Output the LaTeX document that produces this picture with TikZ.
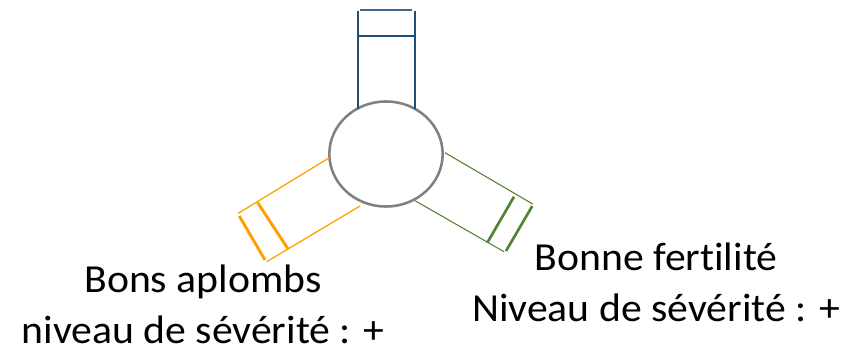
\documentclass[tikz,border=0pt]{standalone}
\usepackage{fontspec}
\setmainfont{Carlito}[Ligatures=NoCommon, FakeStretch=1.05]
\usetikzlibrary{shapes.geometric}
\definecolor{armblue}{HTML}{1F4E79}
\definecolor{armorange}{HTML}{FFA000}
\definecolor{armgreen}{HTML}{548235}
\definecolor{bodygray}{HTML}{808080}
\tikzset{
  body/.style={ellipse, draw=bodygray, line width=1.9pt, inner sep=0pt,
    minimum width=85pt, minimum height=78.8pt},
  thinside/.style={line width=0.95pt},
  thickbar/.style={line width=2.2pt},
  label/.style={font=\fontsize{29.8}{37.8}\selectfont, align=center, inner sep=0pt, anchor=base}
}
\begin{document}
\begin{tikzpicture}[x=0.75pt,y=-0.75pt]
\useasboundingbox (0,0) rectangle (856,349);
\node[body] (corps) at (386,154) {};
% top arm (blue)
\coordinate (bA1) at (357.7,11);
\coordinate (bA2) at (357.7,108.6);
\coordinate (bB1) at (415,11);
\coordinate (bB2) at (415,108.6);
\coordinate (bT1) at (360,10);
\coordinate (bT2) at (412,10);
\coordinate (bC1) at (358,36);
\coordinate (bC2) at (415,36);
\draw[armblue, line width=1.5pt] (bA1) -- (bA2) (bB1) -- (bB2);
\draw[armblue!85, line width=1.5pt] (bT1) -- (bT2);
\draw[armblue, line width=2pt] (bC1) -- (bC2);
% left arm (orange)
\coordinate (oU1) at (330,157.3);
\coordinate (oU2) at (238.3,213.3);
\coordinate (oL1) at (360,206);
\coordinate (oL2) at (266.7,261.7);
\coordinate (oO1) at (239.3,216);
\coordinate (oO2) at (265,260);
\coordinate (oI1) at (257.7,202.7);
\coordinate (oI2) at (288.3,249.3);
\draw[armorange, thinside] (oU1) -- (oU2) (oL1) -- (oL2);
\draw[armorange, thickbar] (oO1) -- (oO2) (oI1) -- (oI2);
% right arm (green)
\coordinate (gU1) at (445,152.7);
\coordinate (gU2) at (532.7,204);
\coordinate (gL1) at (415,200.7);
\coordinate (gL2) at (504,251.7);
\coordinate (gO1) at (532.3,206);
\coordinate (gO2) at (506,251);
\coordinate (gI1) at (514,196.7);
\coordinate (gI2) at (487.3,242.7);
\draw[armgreen, line width=0.8pt] (gU1) -- (gU2) (gL1) -- (gL2);
\draw[armgreen, line width=2pt] (gO1) -- (gO2) (gI1) -- (gI2);
% labels
\node[label] (gauche) at (203,343.3) {Bons aplombs\\niveau de sévérité : +};
\node[label] (droite) at (656,321) {Bonne fertilité\\Niveau de sévérité : +};
\end{tikzpicture}
\end{document}
